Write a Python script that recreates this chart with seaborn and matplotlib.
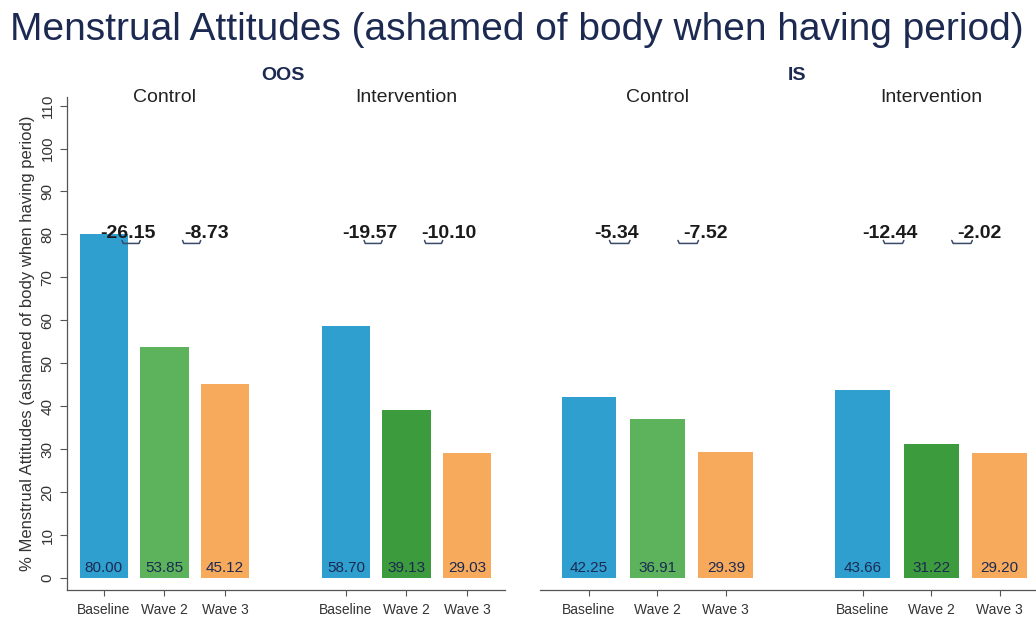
import matplotlib
matplotlib.use("Agg")
import matplotlib.pyplot as plt
import seaborn as sns
import pandas as pd

# ---- data ----
waves = ["Baseline", "Wave 2", "Wave 3"]
panels = ["OOS", "IS"]
groups = ["Control", "Intervention"]
oos_control = [80.00, 53.85, 45.12]
oos_intervention = [58.70, 39.13, 29.03]
is_control = [42.25, 36.91, 29.39]
is_intervention = [43.66, 31.22, 29.20]
oos_control_diff = [-26.15, -8.73]
oos_intervention_diff = [-19.57, -10.10]
is_control_diff = [-5.34, -7.52]
is_intervention_diff = [-12.44, -2.02]
y_ticks = list(range(0, 111, 10))

values = {"OOS": [oos_control, oos_intervention], "IS": [is_control, is_intervention]}
diffs = {"OOS": [oos_control_diff, oos_intervention_diff], "IS": [is_control_diff, is_intervention_diff]}

palette = {"Baseline": "#2f9fd0", "Wave 2|Control": "#5cb35c",
           "Wave 2|Intervention": "#3c9b3c", "Wave 3": "#f7aa5c"}

sns.set_theme(style="white")
plt.rcParams["font.family"] = ["Liberation Sans", "DejaVu Sans"]

fig = plt.figure(figsize=(10.36, 6.18), dpi=100)
H = 618.0
def fy(p):
    return 1 - p / H

ax_bottom_px, ax_top_px = 590, 97
axes = {
    "OOS": fig.add_axes([67/1036, fy(ax_bottom_px), (505-67)/1036, (ax_bottom_px-ax_top_px)/H]),
    "IS": fig.add_axes([540/1036, fy(ax_bottom_px), (1036-540)/1036, (ax_bottom_px-ax_top_px)/H]),
}
xlims = {"OOS": (-0.61, 6.63), "IS": (-0.715, 6.53)}
navy = "#1c2a52"

for panel in panels:
    ax = axes[panel]
    rows = []
    for gi, g in enumerate(groups):
        for wi, w in enumerate(waves):
            key = w if w != "Wave 2" else f"Wave 2|{g}"
            rows.append({"pos": gi * 4 + wi, "value": values[panel][gi][wi],
                         "shade": key, "wave": w, "group": g})
    df = pd.DataFrame(rows)
    sns.barplot(data=df, x="pos", y="value", hue="shade", palette=palette,
                native_scale=True, dodge=False, saturation=1, width=0.8,
                linewidth=0, legend=False, ax=ax)
    ax.set_xlim(*xlims[panel])
    ax.set_ylim(-2.8, 112)
    ax.set_xlabel("")
    ax.set_ylabel("")
    ax.set_xticks(df["pos"].tolist())
    ax.set_xticklabels(df["wave"].tolist(), fontsize=10, color="#333333")
    ax.tick_params(axis="x", length=4, width=0.8, color="#555555", pad=5, bottom=True)
    for s in ["top", "right"]:
        ax.spines[s].set_visible(False)
    ax.spines["bottom"].set_color("#555555")
    ax.spines["bottom"].set_linewidth(0.9)
    if panel == "OOS":
        ax.spines["left"].set_color("#555555")
        ax.spines["left"].set_linewidth(0.9)
        ax.set_yticks(y_ticks)
        ax.set_yticklabels([str(t) for t in y_ticks], rotation=90, va="center",
                           fontsize=11, color="#333333")
        ax.tick_params(axis="y", length=5, width=0.8, color="#555555", left=True, pad=4)
        ax.set_ylabel("% Menstrual Attitudes (ashamed of body when having period)",
                      fontsize=12, color="#333333", labelpad=4)
    else:
        ax.spines["left"].set_visible(False)
        ax.set_yticks([])

    # value labels inside bars
    for _, r in df.iterrows():
        ax.text(r["pos"], 2.3, f"{r['value']:.2f}", ha="center", va="center",
                fontsize=11, color=navy)

    # differences and brackets
    label_y = 1 - (98 - ax_top_px) / (ax_bottom_px - ax_top_px)
    for gi, g in enumerate(groups):
        base = gi * 4
        for di, d in enumerate(diffs[panel][gi]):
            mid = base + di + 0.5
            tx = mid - 0.1 if di == 0 else mid + 0.2
            ax.text(tx, 80.3, f"{d:.2f}", ha="center", va="center", fontsize=14,
                    fontweight="bold", color="#1a1a1a")
            bc = mid - 0.05
            ax.plot([bc - 0.15, bc - 0.13, bc + 0.13, bc + 0.15],
                    [78.6, 77.9, 77.9, 78.6], color="#3a4a6a", lw=1.1,
                    solid_capstyle="round")
        # group label
        ax.text(base + 1, label_y, g, transform=ax.get_xaxis_transform(), ha="center",
                va="center", fontsize=14, color="#222222")

# panel titles
fig.text(283/1036, fy(75), "OOS", ha="center", va="center", fontsize=14,
         fontweight="bold", color=navy)
fig.text(797/1036, fy(75), "IS", ha="center", va="center", fontsize=14,
         fontweight="bold", color=navy)
fig.text(10/1036, fy(30), "Menstrual Attitudes (ashamed of body when having period)",
         ha="left", va="center", fontsize=28, color=navy)

fig.savefig("out.png", dpi=100)
